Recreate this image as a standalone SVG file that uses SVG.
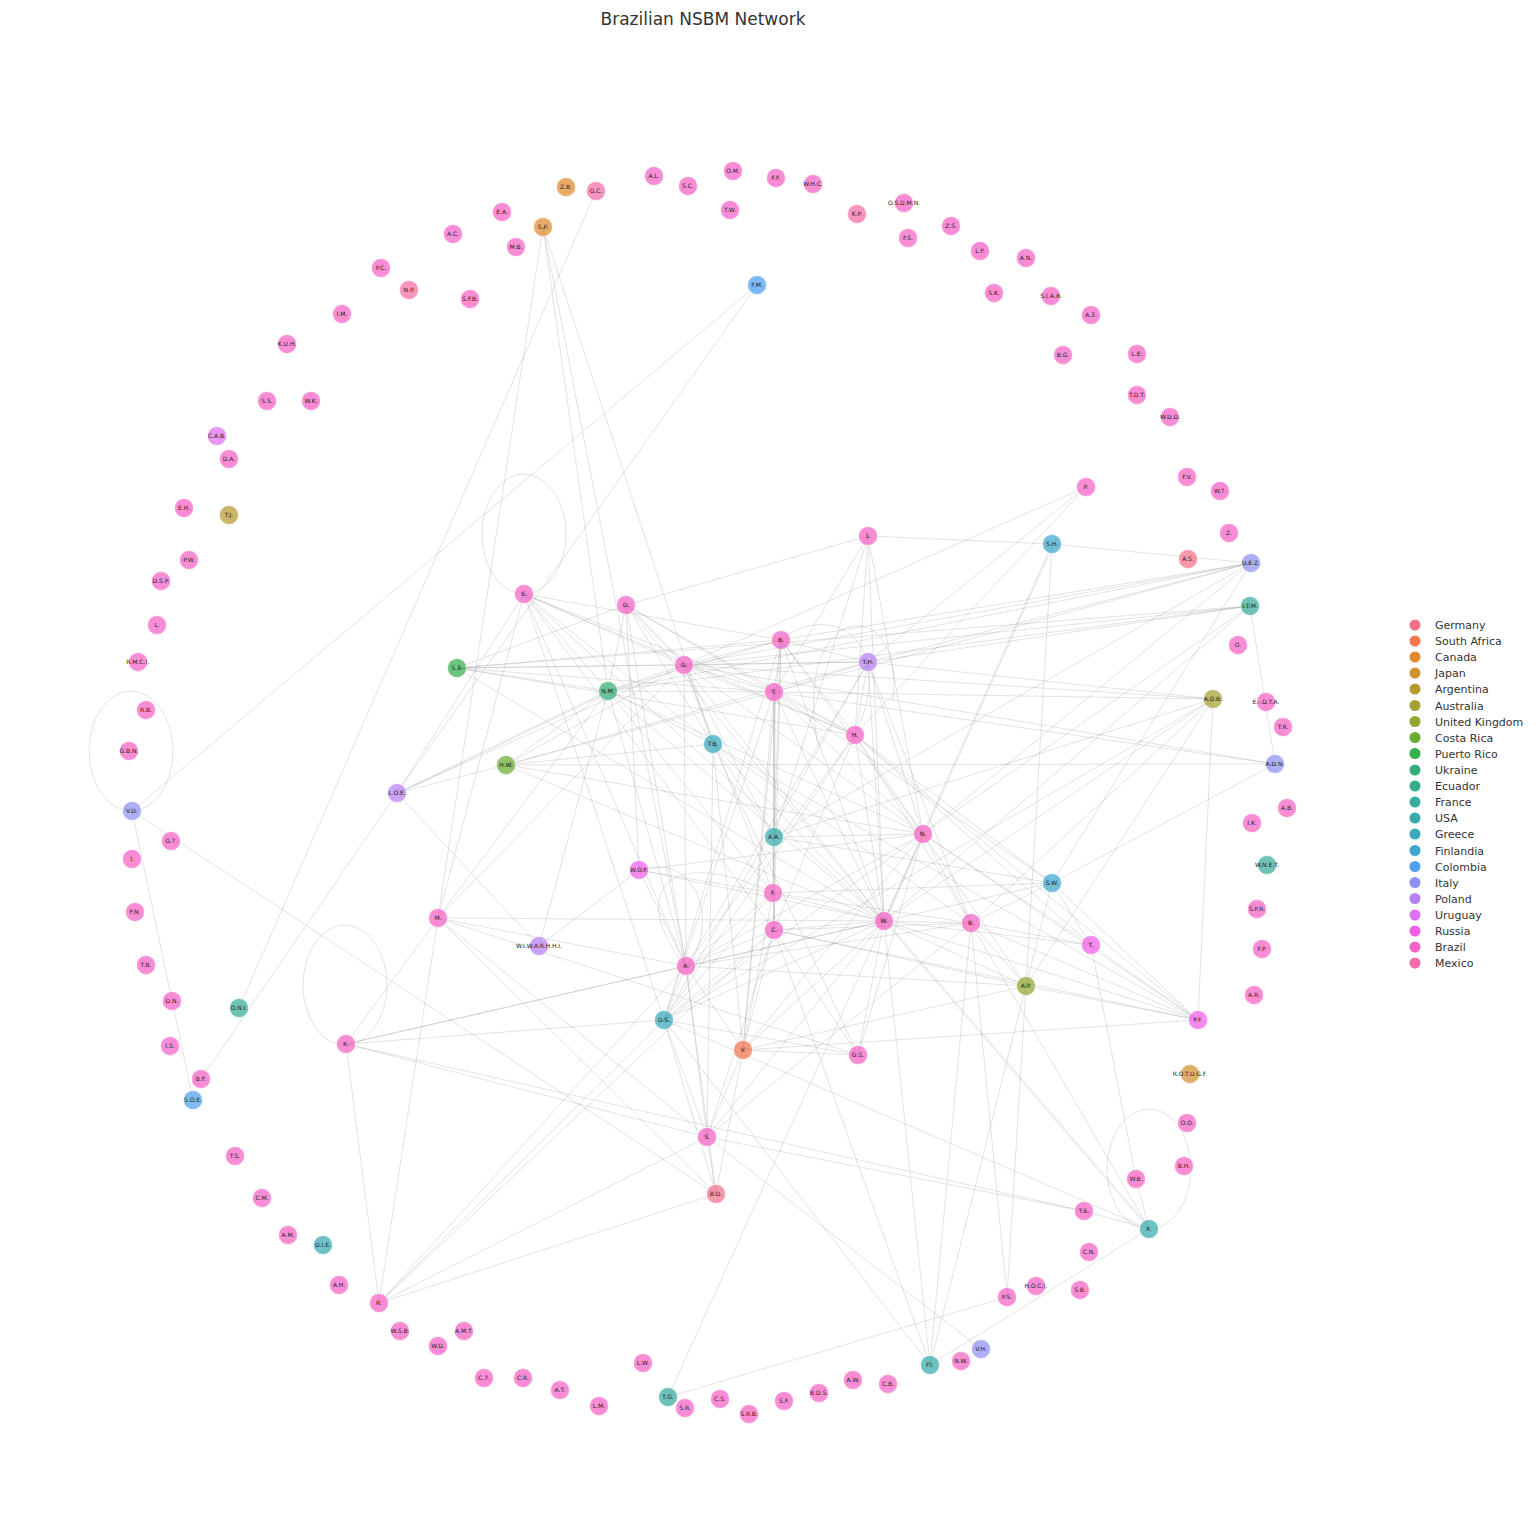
<svg xmlns="http://www.w3.org/2000/svg" width="1536" height="1536" viewBox="0 0 1536 1536">
<style>
.e line,.e path,.e ellipse{stroke:#888;stroke-opacity:.3;stroke-width:.8;fill:none}
.n circle{fill-opacity:.72;stroke:#fff;stroke-width:.6}
.n text{font-family:"DejaVu Sans",sans-serif;font-size:6px;fill:#222;text-anchor:middle}
.title{font-family:"DejaVu Sans",sans-serif;font-size:17px;fill:#333;text-anchor:middle}
.lg text{font-family:"DejaVu Sans",sans-serif;font-size:11px;fill:#333}
.de{fill:#f4708a}.za{fill:#f5764f}.ca{fill:#e0892e}.jp{fill:#d19232}.ar{fill:#b8992f}.au{fill:#a5a033}.uk{fill:#92a631}.cr{fill:#6aac31}.pr{fill:#34b04f}.ua{fill:#36ae79}.ec{fill:#36ad8f}.fr{fill:#37ab9e}.us{fill:#38aaad}.gr{fill:#39a9bc}.fi{fill:#3ba6cf}.co{fill:#4ea0f2}.it{fill:#8f90f4}.pl{fill:#b780f4}.uy{fill:#dc6ff4}.ru{fill:#f35de6}.br{fill:#f561c6}.mx{fill:#f66aa8}
</style>
<rect width="1536" height="1536" fill="#fff"/>
<text class="title" x="703" y="25">Brazilian NSBM Network</text>
<g id="edges" class="e">
<ellipse cx="524" cy="534" rx="42" ry="60"/>
<ellipse cx="131" cy="751" rx="42" ry="60"/>
<ellipse cx="345" cy="985" rx="42" ry="60"/>
<ellipse cx="1149" cy="1169" rx="42" ry="60"/>
<path d="M818,745 C790,600 905,590 893,700"/>
<path d="M781,640 C830,600 900,640 855,735"/>
<path d="M686,966 C630,900 660,840 773,893"/>
<path d="M639,870 C700,850 720,930 686,966"/>
<line x1="543" y1="227" x2="438" y2="918"/><line x1="543" y1="227" x2="608" y2="691"/><line x1="543" y1="227" x2="686" y2="966"/><line x1="543" y1="227" x2="713" y2="744"/>
<line x1="596" y1="191" x2="239" y2="1008"/>
<line x1="757" y1="285" x2="132" y2="811"/><line x1="757" y1="285" x2="397" y2="793"/>
<line x1="868" y1="536" x2="1052" y2="544"/><line x1="868" y1="536" x2="626" y2="605"/><line x1="868" y1="536" x2="774" y2="692"/><line x1="868" y1="536" x2="855" y2="735"/><line x1="868" y1="536" x2="923" y2="834"/><line x1="868" y1="536" x2="774" y2="837"/><line x1="868" y1="536" x2="884" y2="921"/>
<line x1="1086" y1="487" x2="684" y2="665"/><line x1="1086" y1="487" x2="868" y2="662"/><line x1="1086" y1="487" x2="855" y2="735"/>
<line x1="1052" y1="544" x2="884" y2="921"/><line x1="1053" y1="545" x2="885" y2="922"/><line x1="1052" y1="544" x2="1026" y2="986"/><line x1="1052" y1="544" x2="1251" y2="563"/>
<line x1="1251" y1="563" x2="684" y2="665"/><line x1="1251" y1="563" x2="774" y2="692"/><line x1="1251" y1="563" x2="608" y2="691"/><line x1="1251" y1="563" x2="868" y2="662"/><line x1="1251" y1="563" x2="923" y2="834"/><line x1="1251" y1="563" x2="1052" y2="883"/><line x1="1251" y1="563" x2="781" y2="640"/><line x1="1251" y1="563" x2="774" y2="837"/>
<line x1="1250" y1="606" x2="1275" y2="764"/><line x1="1250" y1="606" x2="884" y2="921"/><line x1="1250" y1="606" x2="684" y2="665"/><line x1="1250" y1="606" x2="868" y2="662"/><line x1="1250" y1="606" x2="608" y2="691"/><line x1="1250" y1="606" x2="923" y2="834"/><line x1="1250" y1="606" x2="457" y2="668"/>
<line x1="1213" y1="699" x2="1198" y2="1020"/><line x1="1213" y1="699" x2="1026" y2="986"/><line x1="1213" y1="699" x2="774" y2="692"/><line x1="1213" y1="699" x2="774" y2="837"/><line x1="1213" y1="699" x2="884" y2="921"/><line x1="1213" y1="699" x2="868" y2="662"/><line x1="1213" y1="699" x2="971" y2="923"/><line x1="1213" y1="699" x2="684" y2="665"/><line x1="1213" y1="699" x2="664" y2="1020"/>
<line x1="1275" y1="764" x2="1052" y2="883"/><line x1="1275" y1="764" x2="506" y2="765"/><line x1="1275" y1="764" x2="774" y2="692"/><line x1="1275" y1="764" x2="684" y2="665"/>
<line x1="132" y1="811" x2="193" y2="1100"/><line x1="132" y1="811" x2="716" y2="1194"/>
<line x1="201" y1="1079" x2="397" y2="793"/>
<line x1="397" y1="793" x2="608" y2="691"/><line x1="398" y1="794" x2="609" y2="692"/><line x1="397" y1="793" x2="506" y2="765"/><line x1="397" y1="793" x2="524" y2="594"/><line x1="397" y1="793" x2="539" y2="946"/>
<line x1="438" y1="918" x2="346" y2="1044"/><line x1="438" y1="918" x2="379" y2="1303"/><line x1="438" y1="918" x2="686" y2="966"/><line x1="438" y1="918" x2="884" y2="921"/><line x1="438" y1="918" x2="707" y2="1137"/><line x1="438" y1="918" x2="716" y2="1194"/><line x1="438" y1="918" x2="858" y2="1055"/><line x1="438" y1="918" x2="608" y2="691"/><line x1="438" y1="918" x2="684" y2="665"/><line x1="438" y1="918" x2="524" y2="594"/>
<line x1="346" y1="1044" x2="379" y2="1303"/><line x1="346" y1="1044" x2="664" y2="1020"/><line x1="346" y1="1044" x2="686" y2="966"/><line x1="346" y1="1044" x2="707" y2="1137"/><line x1="346" y1="1044" x2="1084" y2="1211"/><line x1="346" y1="1044" x2="884" y2="921"/>
<line x1="379" y1="1303" x2="716" y2="1194"/><line x1="379" y1="1303" x2="707" y2="1137"/><line x1="379" y1="1303" x2="664" y2="1020"/><line x1="379" y1="1303" x2="686" y2="966"/><line x1="379" y1="1303" x2="774" y2="930"/>
<line x1="668" y1="1397" x2="884" y2="921"/><line x1="668" y1="1397" x2="1007" y2="1297"/>
<line x1="1007" y1="1297" x2="1026" y2="986"/><line x1="1007" y1="1297" x2="971" y2="923"/>
<line x1="930" y1="1365" x2="1026" y2="986"/><line x1="930" y1="1365" x2="971" y2="923"/><line x1="930" y1="1365" x2="884" y2="921"/><line x1="930" y1="1365" x2="664" y2="1020"/><line x1="930" y1="1365" x2="1149" y2="1229"/><line x1="930" y1="1365" x2="774" y2="930"/>
<line x1="981" y1="1349" x2="707" y2="1137"/>
<line x1="1149" y1="1229" x2="1136" y2="1179"/><line x1="1149" y1="1229" x2="884" y2="921"/><line x1="1150" y1="1228" x2="885" y2="920"/><line x1="1149" y1="1229" x2="971" y2="923"/><line x1="1149" y1="1229" x2="1084" y2="1211"/><line x1="1149" y1="1229" x2="664" y2="1020"/>
<line x1="1136" y1="1179" x2="1091" y2="945"/>
<line x1="1084" y1="1211" x2="707" y2="1137"/>
<line x1="524" y1="594" x2="608" y2="691"/><line x1="524" y1="594" x2="684" y2="665"/><line x1="524" y1="594" x2="774" y2="692"/><line x1="524" y1="594" x2="855" y2="735"/><line x1="524" y1="594" x2="686" y2="966"/><line x1="524" y1="594" x2="664" y2="1020"/><line x1="524" y1="594" x2="713" y2="744"/><line x1="524" y1="594" x2="884" y2="921"/><line x1="524" y1="594" x2="774" y2="930"/><line x1="524" y1="594" x2="781" y2="640"/>
<line x1="626" y1="605" x2="608" y2="691"/><line x1="626" y1="605" x2="684" y2="665"/><line x1="627" y1="604" x2="685" y2="664"/><line x1="626" y1="605" x2="774" y2="692"/><line x1="626" y1="605" x2="639" y2="870"/><line x1="626" y1="605" x2="686" y2="966"/><line x1="626" y1="605" x2="713" y2="744"/><line x1="626" y1="605" x2="457" y2="668"/><line x1="626" y1="605" x2="855" y2="735"/><line x1="626" y1="605" x2="884" y2="921"/>
<line x1="684" y1="665" x2="774" y2="692"/><line x1="684" y1="665" x2="781" y2="640"/><line x1="684" y1="665" x2="868" y2="662"/><line x1="684" y1="665" x2="855" y2="735"/><line x1="684" y1="665" x2="608" y2="691"/><line x1="684" y1="665" x2="457" y2="668"/><line x1="684" y1="665" x2="506" y2="765"/><line x1="684" y1="665" x2="713" y2="744"/><line x1="684" y1="665" x2="774" y2="837"/><line x1="684" y1="665" x2="884" y2="921"/><line x1="684" y1="665" x2="923" y2="834"/><line x1="684" y1="665" x2="773" y2="893"/><line x1="684" y1="665" x2="686" y2="966"/><line x1="684" y1="665" x2="397" y2="793"/>
<line x1="781" y1="640" x2="774" y2="692"/><line x1="781" y1="640" x2="868" y2="662"/><line x1="781" y1="640" x2="855" y2="735"/><line x1="781" y1="640" x2="774" y2="837"/><line x1="781" y1="640" x2="774" y2="930"/><line x1="781" y1="640" x2="884" y2="921"/><line x1="781" y1="640" x2="923" y2="834"/><line x1="781" y1="640" x2="457" y2="668"/><line x1="781" y1="640" x2="664" y2="1020"/><line x1="781" y1="640" x2="743" y2="1050"/>
<line x1="868" y1="662" x2="774" y2="692"/><line x1="868" y1="662" x2="855" y2="735"/><line x1="868" y1="662" x2="923" y2="834"/><line x1="868" y1="662" x2="884" y2="921"/><line x1="868" y1="662" x2="686" y2="966"/><line x1="868" y1="662" x2="664" y2="1020"/><line x1="868" y1="662" x2="457" y2="668"/><line x1="868" y1="662" x2="506" y2="765"/><line x1="868" y1="662" x2="971" y2="923"/>
<line x1="774" y1="692" x2="774" y2="837"/><line x1="775" y1="692" x2="775" y2="837"/><line x1="774" y1="692" x2="773" y2="893"/><line x1="774" y1="692" x2="774" y2="930"/><line x1="774" y1="692" x2="855" y2="735"/><line x1="774" y1="692" x2="923" y2="834"/><line x1="774" y1="692" x2="884" y2="921"/><line x1="774" y1="692" x2="1052" y2="883"/><line x1="774" y1="692" x2="743" y2="1050"/><line x1="774" y1="692" x2="664" y2="1020"/><line x1="774" y1="692" x2="608" y2="691"/><line x1="774" y1="692" x2="506" y2="765"/><line x1="774" y1="692" x2="457" y2="668"/>
<line x1="855" y1="735" x2="923" y2="834"/><line x1="855" y1="735" x2="884" y2="921"/><line x1="855" y1="735" x2="971" y2="923"/><line x1="855" y1="735" x2="1091" y2="945"/><line x1="855" y1="735" x2="686" y2="966"/><line x1="855" y1="735" x2="774" y2="930"/><line x1="855" y1="735" x2="664" y2="1020"/><line x1="855" y1="735" x2="1198" y2="1020"/><line x1="855" y1="735" x2="1052" y2="883"/>
<line x1="608" y1="691" x2="686" y2="966"/><line x1="608" y1="691" x2="713" y2="744"/><line x1="608" y1="691" x2="884" y2="921"/><line x1="608" y1="691" x2="457" y2="668"/><line x1="608" y1="691" x2="773" y2="893"/><line x1="608" y1="691" x2="923" y2="834"/><line x1="608" y1="691" x2="781" y2="640"/><line x1="608" y1="691" x2="506" y2="765"/><line x1="608" y1="691" x2="539" y2="946"/>
<line x1="713" y1="744" x2="774" y2="837"/><line x1="713" y1="744" x2="884" y2="921"/><line x1="713" y1="744" x2="971" y2="923"/><line x1="713" y1="744" x2="1198" y2="1020"/><line x1="713" y1="744" x2="858" y2="1055"/><line x1="713" y1="744" x2="743" y2="1050"/><line x1="713" y1="744" x2="707" y2="1137"/>
<line x1="774" y1="837" x2="773" y2="893"/><line x1="774" y1="837" x2="774" y2="930"/><line x1="774" y1="837" x2="923" y2="834"/><line x1="774" y1="837" x2="1052" y2="883"/>
<line x1="923" y1="834" x2="884" y2="921"/><line x1="923" y1="834" x2="971" y2="923"/><line x1="923" y1="834" x2="1091" y2="945"/><line x1="923" y1="834" x2="1198" y2="1020"/><line x1="923" y1="834" x2="1026" y2="986"/><line x1="923" y1="834" x2="639" y2="870"/><line x1="923" y1="834" x2="664" y2="1020"/><line x1="923" y1="834" x2="743" y2="1050"/><line x1="923" y1="834" x2="686" y2="966"/>
<line x1="639" y1="870" x2="773" y2="893"/><line x1="639" y1="870" x2="884" y2="921"/><line x1="639" y1="870" x2="686" y2="966"/><line x1="639" y1="870" x2="539" y2="946"/>
<line x1="773" y1="893" x2="774" y2="930"/><line x1="773" y1="893" x2="884" y2="921"/><line x1="773" y1="893" x2="971" y2="923"/><line x1="773" y1="893" x2="686" y2="966"/><line x1="773" y1="893" x2="664" y2="1020"/><line x1="773" y1="893" x2="743" y2="1050"/><line x1="773" y1="893" x2="1052" y2="883"/>
<line x1="884" y1="921" x2="971" y2="923"/><line x1="884" y1="921" x2="1091" y2="945"/><line x1="884" y1="921" x2="1026" y2="986"/><line x1="884" y1="921" x2="1198" y2="1020"/><line x1="884" y1="921" x2="664" y2="1020"/><line x1="884" y1="921" x2="686" y2="966"/><line x1="884" y1="921" x2="774" y2="930"/><line x1="884" y1="921" x2="858" y2="1055"/><line x1="884" y1="921" x2="1052" y2="883"/><line x1="884" y1="921" x2="743" y2="1050"/><line x1="884" y1="921" x2="707" y2="1137"/>
<line x1="971" y1="923" x2="1091" y2="945"/><line x1="971" y1="923" x2="1052" y2="883"/><line x1="971" y1="923" x2="1198" y2="1020"/><line x1="971" y1="923" x2="1026" y2="986"/><line x1="971" y1="923" x2="774" y2="930"/><line x1="971" y1="923" x2="686" y2="966"/>
<line x1="774" y1="930" x2="686" y2="966"/><line x1="774" y1="930" x2="664" y2="1020"/><line x1="774" y1="930" x2="743" y2="1050"/><line x1="774" y1="930" x2="858" y2="1055"/><line x1="774" y1="930" x2="707" y2="1137"/><line x1="774" y1="930" x2="1198" y2="1020"/><line x1="774" y1="930" x2="1026" y2="986"/>
<line x1="686" y1="966" x2="664" y2="1020"/><line x1="686" y1="966" x2="707" y2="1137"/><line x1="686" y1="966" x2="743" y2="1050"/><line x1="686" y1="966" x2="1026" y2="986"/><line x1="686" y1="966" x2="716" y2="1194"/>
<line x1="664" y1="1020" x2="707" y2="1137"/><line x1="664" y1="1020" x2="716" y2="1194"/><line x1="664" y1="1020" x2="858" y2="1055"/>
<line x1="743" y1="1050" x2="707" y2="1137"/><line x1="743" y1="1050" x2="716" y2="1194"/><line x1="743" y1="1050" x2="1198" y2="1020"/><line x1="743" y1="1050" x2="1026" y2="986"/><line x1="743" y1="1050" x2="858" y2="1055"/>
<line x1="707" y1="1137" x2="716" y2="1194"/><line x1="707" y1="1137" x2="971" y2="923"/>
<line x1="1052" y1="883" x2="1026" y2="986"/><line x1="1052" y1="883" x2="1091" y2="945"/><line x1="1052" y1="883" x2="1198" y2="1020"/>
<line x1="1091" y1="945" x2="1198" y2="1020"/><line x1="1026" y1="986" x2="1198" y2="1020"/>
<line x1="457" y1="668" x2="855" y2="735"/><line x1="457" y1="668" x2="884" y2="921"/>
<line x1="506" y1="765" x2="884" y2="921"/><line x1="506" y1="765" x2="923" y2="834"/><line x1="506" y1="765" x2="713" y2="744"/>
<line x1="858" y1="1055" x2="923" y2="834"/>
</g>
<g id="nodes" class="n">
<g id="n-ZB"><circle class="ca" cx="566" cy="187" r="9.5"/><text x="566" y="189">Z.B.</text></g>
<g id="n-GC"><circle class="mx" cx="596" cy="191" r="9.5"/><text x="596" y="193">G.C.</text></g>
<g id="n-AL"><circle class="br" cx="654" cy="176" r="9.5"/><text x="654" y="178">A.L.</text></g>
<g id="n-SC"><circle class="br" cx="688" cy="186" r="9.5"/><text x="688" y="188">S.C.</text></g>
<g id="n-OM"><circle class="br" cx="733" cy="171" r="9.5"/><text x="733" y="173">O.M.</text></g>
<g id="n-FF1"><circle class="br" cx="776" cy="178" r="9.5"/><text x="776" y="180">F.F.</text></g>
<g id="n-WHC"><circle class="br" cx="813" cy="184" r="9.5"/><text x="813" y="186">W.H.C.</text></g>
<g id="n-TW"><circle class="br" cx="730" cy="210" r="9.5"/><text x="730" y="212">T.W.</text></g>
<g id="n-KP"><circle class="mx" cx="857" cy="214" r="9.5"/><text x="857" y="216">K.P.</text></g>
<g id="n-OSDMN"><circle class="br" cx="904" cy="203" r="9.5"/><text x="904" y="205">O.S.D.M.N.</text></g>
<g id="n-FS"><circle class="br" cx="908" cy="238" r="9.5"/><text x="908" y="240">F.S.</text></g>
<g id="n-ZS"><circle class="br" cx="951" cy="226" r="9.5"/><text x="951" y="228">Z.S.</text></g>
<g id="n-LF"><circle class="br" cx="980" cy="251" r="9.5"/><text x="980" y="253">L.F.</text></g>
<g id="n-AN"><circle class="br" cx="1026" cy="258" r="9.5"/><text x="1026" y="260">A.N.</text></g>
<g id="n-SK"><circle class="br" cx="994" cy="293" r="9.5"/><text x="994" y="295">S.K.</text></g>
<g id="n-SCAR"><circle class="br" cx="1051" cy="296" r="9.5"/><text x="1051" y="298">S.(.A.R.</text></g>
<g id="n-A3"><circle class="br" cx="1091" cy="315" r="9.5"/><text x="1091" y="317">A.3.</text></g>
<g id="n-BG"><circle class="br" cx="1063" cy="355" r="9.5"/><text x="1063" y="357">B.G.</text></g>
<g id="n-LE"><circle class="br" cx="1137" cy="354" r="9.5"/><text x="1137" y="356">L.E.</text></g>
<g id="n-TDT"><circle class="br" cx="1137" cy="395" r="9.5"/><text x="1137" y="397">T.D.T.</text></g>
<g id="n-WDD"><circle class="br" cx="1170" cy="417" r="9.5"/><text x="1170" y="419">W.D.D.</text></g>
<g id="n-FV"><circle class="br" cx="1187" cy="477" r="9.5"/><text x="1187" y="479">F.V.</text></g>
<g id="n-W7"><circle class="br" cx="1220" cy="491" r="9.5"/><text x="1220" y="493">W.?.</text></g>
<g id="n-Z"><circle class="br" cx="1229" cy="533" r="9.5"/><text x="1229" y="535">Z.</text></g>
<g id="n-P"><circle class="br" cx="1086" cy="487" r="9.5"/><text x="1086" y="489">P.</text></g>
<g id="n-EA"><circle class="br" cx="502" cy="212" r="9.5"/><text x="502" y="214">E.A.</text></g>
<g id="n-AC"><circle class="br" cx="453" cy="234" r="9.5"/><text x="453" y="236">A.C.</text></g>
<g id="n-SP"><circle class="ca" cx="543" cy="227" r="9.5"/><text x="543" y="229">S.P.</text></g>
<g id="n-MB"><circle class="br" cx="516" cy="247" r="9.5"/><text x="516" y="249">M.B.</text></g>
<g id="n-PC"><circle class="br" cx="381" cy="268" r="9.5"/><text x="381" y="270">P.C.</text></g>
<g id="n-NP"><circle class="mx" cx="409" cy="290" r="9.5"/><text x="409" y="292">N.P.</text></g>
<g id="n-SFB"><circle class="br" cx="470" cy="299" r="9.5"/><text x="470" y="301">S.F.B.</text></g>
<g id="n-IM"><circle class="br" cx="342" cy="314" r="9.5"/><text x="342" y="316">I.M.</text></g>
<g id="n-KUH"><circle class="br" cx="287" cy="344" r="9.5"/><text x="287" y="346">K.U.H.</text></g>
<g id="n-SS"><circle class="br" cx="267" cy="401" r="9.5"/><text x="267" y="403">S.S.</text></g>
<g id="n-WK"><circle class="br" cx="311" cy="401" r="9.5"/><text x="311" y="403">W.K.</text></g>
<g id="n-CAB"><circle class="uy" cx="217" cy="436" r="9.5"/><text x="217" y="438">C.A.B.</text></g>
<g id="n-DA"><circle class="br" cx="229" cy="459" r="9.5"/><text x="229" y="461">D.A.</text></g>
<g id="n-EH"><circle class="br" cx="184" cy="508" r="9.5"/><text x="184" y="510">E.H.</text></g>
<g id="n-TJ"><circle class="ar" cx="229" cy="515" r="9.5"/><text x="229" y="517">T.J.</text></g>
<g id="n-PW"><circle class="br" cx="189" cy="560" r="9.5"/><text x="189" y="562">P.W.</text></g>
<g id="n-DSP"><circle class="br" cx="161" cy="581" r="9.5"/><text x="161" y="583">D.S.P.</text></g>
<g id="n-L"><circle class="br" cx="157" cy="625" r="9.5"/><text x="157" y="627">L.</text></g>
<g id="n-RMC"><circle class="br" cx="138" cy="662" r="9.5"/><text x="138" y="664">R.M.C.(.</text></g>
<g id="n-RB"><circle class="br" cx="146" cy="710" r="9.5"/><text x="146" y="712">R.B.</text></g>
<g id="n-GBN"><circle class="br" cx="129" cy="751" r="9.5"/><text x="129" y="753">G.B.N.</text></g>
<g id="n-VD"><circle class="it" cx="132" cy="811" r="9.5"/><text x="132" y="813">V.D.</text></g>
<g id="n-GQ"><circle class="br" cx="171" cy="841" r="9.5"/><text x="171" y="843">G.?.</text></g>
<g id="n-I"><circle class="br" cx="132" cy="859" r="9.5"/><text x="132" y="861">I.</text></g>
<g id="n-FN"><circle class="br" cx="135" cy="912" r="9.5"/><text x="135" y="914">F.N.</text></g>
<g id="n-TB1"><circle class="br" cx="146" cy="965" r="9.5"/><text x="146" y="967">T.B.</text></g>
<g id="n-DN"><circle class="br" cx="172" cy="1001" r="9.5"/><text x="172" y="1003">D.N.</text></g>
<g id="n-ONI"><circle class="ec" cx="239" cy="1008" r="9.5"/><text x="239" y="1010">O.N.I.</text></g>
<g id="n-IS"><circle class="br" cx="170" cy="1046" r="9.5"/><text x="170" y="1048">I.S.</text></g>
<g id="n-BF"><circle class="br" cx="201" cy="1079" r="9.5"/><text x="201" y="1081">B.F.</text></g>
<g id="n-SOE"><circle class="co" cx="193" cy="1100" r="9.5"/><text x="193" y="1102">S.O.E.</text></g>
<g id="n-TS"><circle class="br" cx="235" cy="1156" r="9.5"/><text x="235" y="1158">T.S.</text></g>
<g id="n-CM"><circle class="br" cx="262" cy="1198" r="9.5"/><text x="262" y="1200">C.M.</text></g>
<g id="n-AM"><circle class="br" cx="288" cy="1235" r="9.5"/><text x="288" y="1237">A.M.</text></g>
<g id="n-DIE"><circle class="us" cx="323" cy="1245" r="9.5"/><text x="323" y="1247">D.I.E.</text></g>
<g id="n-AH"><circle class="br" cx="339" cy="1285" r="9.5"/><text x="339" y="1287">A.H.</text></g>
<g id="n-R"><circle class="br" cx="379" cy="1303" r="9.5"/><text x="379" y="1305">R.</text></g>
<g id="n-WSB"><circle class="br" cx="400" cy="1331" r="9.5"/><text x="400" y="1333">W.S.B.</text></g>
<g id="n-AMT"><circle class="br" cx="464" cy="1331" r="9.5"/><text x="464" y="1333">A.M.T.</text></g>
<g id="n-WD"><circle class="br" cx="438" cy="1346" r="9.5"/><text x="438" y="1348">W.D.</text></g>
<g id="n-C7"><circle class="br" cx="484" cy="1378" r="9.5"/><text x="484" y="1380">C.7.</text></g>
<g id="n-CR"><circle class="br" cx="523" cy="1378" r="9.5"/><text x="523" y="1380">C.R.</text></g>
<g id="n-AT"><circle class="br" cx="560" cy="1390" r="9.5"/><text x="560" y="1392">A.T.</text></g>
<g id="n-LM"><circle class="br" cx="599" cy="1406" r="9.5"/><text x="599" y="1408">L.M.</text></g>
<g id="n-LW"><circle class="br" cx="643" cy="1363" r="9.5"/><text x="643" y="1365">L.W.</text></g>
<g id="n-TG"><circle class="fr" cx="668" cy="1397" r="9.5"/><text x="668" y="1399">T.G.</text></g>
<g id="n-SR"><circle class="br" cx="685" cy="1408" r="9.5"/><text x="685" y="1410">S.R.</text></g>
<g id="n-CS"><circle class="br" cx="720" cy="1399" r="9.5"/><text x="720" y="1401">C.S.</text></g>
<g id="n-SRB"><circle class="br" cx="749" cy="1414" r="9.5"/><text x="749" y="1416">S.R.B.</text></g>
<g id="n-SF"><circle class="br" cx="784" cy="1401" r="9.5"/><text x="784" y="1403">S.F.</text></g>
<g id="n-BDS"><circle class="br" cx="819" cy="1393" r="9.5"/><text x="819" y="1395">B.D.S.</text></g>
<g id="n-AW"><circle class="br" cx="853" cy="1380" r="9.5"/><text x="853" y="1382">A.W.</text></g>
<g id="n-CB"><circle class="br" cx="888" cy="1384" r="9.5"/><text x="888" y="1386">C.B.</text></g>
<g id="n-NW"><circle class="br" cx="961" cy="1361" r="9.5"/><text x="961" y="1363">N.W.</text></g>
<g id="n-VH"><circle class="it" cx="981" cy="1349" r="9.5"/><text x="981" y="1351">V.H.</text></g>
<g id="n-FI"><circle class="us" cx="930" cy="1365" r="9.5"/><text x="930" y="1367">F.I.</text></g>
<g id="n-PS"><circle class="br" cx="1007" cy="1297" r="9.5"/><text x="1007" y="1299">P.S.</text></g>
<g id="n-HOC"><circle class="br" cx="1036" cy="1286" r="9.5"/><text x="1036" y="1288">H.O.C.(.</text></g>
<g id="n-SB"><circle class="br" cx="1080" cy="1290" r="9.5"/><text x="1080" y="1292">S.B.</text></g>
<g id="n-CN"><circle class="br" cx="1089" cy="1252" r="9.5"/><text x="1089" y="1254">C.N.</text></g>
<g id="n-T6"><circle class="br" cx="1084" cy="1211" r="9.5"/><text x="1084" y="1213">T.6.</text></g>
<g id="n-X"><circle class="us" cx="1149" cy="1229" r="9.5"/><text x="1149" y="1231">X.</text></g>
<g id="n-WB"><circle class="br" cx="1136" cy="1179" r="9.5"/><text x="1136" y="1181">W.B.</text></g>
<g id="n-BH"><circle class="br" cx="1184" cy="1166" r="9.5"/><text x="1184" y="1168">B.H.</text></g>
<g id="n-OO"><circle class="br" cx="1187" cy="1123" r="9.5"/><text x="1187" y="1125">O.O.</text></g>
<g id="n-ROTUGF"><circle class="jp" cx="1190" cy="1074" r="9.5"/><text x="1190" y="1076">R.O.T.U.G.F.</text></g>
<g id="n-FF2"><circle class="ru" cx="1198" cy="1020" r="9.5"/><text x="1198" y="1022">F.F.</text></g>
<g id="n-AR"><circle class="br" cx="1254" cy="995" r="9.5"/><text x="1254" y="997">A.R.</text></g>
<g id="n-FP"><circle class="br" cx="1262" cy="949" r="9.5"/><text x="1262" y="951">F.P.</text></g>
<g id="n-SPR"><circle class="br" cx="1257" cy="909" r="9.5"/><text x="1257" y="911">S.P.R.</text></g>
<g id="n-WNET"><circle class="fr" cx="1267" cy="865" r="9.5"/><text x="1267" y="867">W.N.E.T.</text></g>
<g id="n-IK"><circle class="br" cx="1252" cy="823" r="9.5"/><text x="1252" y="825">I.K.</text></g>
<g id="n-AB"><circle class="br" cx="1287" cy="808" r="9.5"/><text x="1287" y="810">A.B.</text></g>
<g id="n-ADN"><circle class="it" cx="1275" cy="764" r="9.5"/><text x="1275" y="766">A.D.N.</text></g>
<g id="n-TR"><circle class="br" cx="1283" cy="727" r="9.5"/><text x="1283" y="729">T.R.</text></g>
<g id="n-EDTA"><circle class="br" cx="1266" cy="702" r="9.5"/><text x="1266" y="704">E.-.D.T.A.</text></g>
<g id="n-AOB"><circle class="au" cx="1213" cy="699" r="9.5"/><text x="1213" y="701">A.O.B.</text></g>
<g id="n-O"><circle class="br" cx="1238" cy="645" r="9.5"/><text x="1238" y="647">O.</text></g>
<g id="n-ITM"><circle class="fr" cx="1250" cy="606" r="9.5"/><text x="1250" y="608">I.T.M.</text></g>
<g id="n-UEZ"><circle class="it" cx="1251" cy="563" r="9.5"/><text x="1251" y="565">U.E.Z.</text></g>
<g id="n-AS"><circle class="de" cx="1188" cy="559" r="9.5"/><text x="1188" y="561">A.S.</text></g>
<g id="n-SH"><circle class="fi" cx="1052" cy="544" r="9.5"/><text x="1052" y="546">S.H.</text></g>
<g id="n-1"><circle class="br" cx="868" cy="536" r="9.5"/><text x="868" y="538">1.</text></g>
<g id="n-FM"><circle class="co" cx="757" cy="285" r="9.5"/><text x="757" y="287">F.M.</text></g>
<g id="n-E"><circle class="br" cx="524" cy="594" r="9.5"/><text x="524" y="596">E.</text></g>
<g id="n-D"><circle class="br" cx="626" cy="605" r="9.5"/><text x="626" y="607">D.</text></g>
<g id="n-B1"><circle class="br" cx="781" cy="640" r="9.5"/><text x="781" y="642">B.</text></g>
<g id="n-G"><circle class="br" cx="684" cy="665" r="9.5"/><text x="684" y="667">G.</text></g>
<g id="n-TH"><circle class="pl" cx="868" cy="662" r="9.5"/><text x="868" y="664">T.H.</text></g>
<g id="n-NM"><circle class="ua" cx="608" cy="691" r="9.5"/><text x="608" y="693">N.M.</text></g>
<g id="n-T1"><circle class="br" cx="774" cy="692" r="9.5"/><text x="774" y="694">T.</text></g>
<g id="n-H"><circle class="br" cx="855" cy="735" r="9.5"/><text x="855" y="737">H.</text></g>
<g id="n-TB2"><circle class="gr" cx="713" cy="744" r="9.5"/><text x="713" y="746">T.B.</text></g>
<g id="n-S3"><circle class="pr" cx="457" cy="668" r="9.5"/><text x="457" y="670">S.3.</text></g>
<g id="n-HW"><circle class="cr" cx="506" cy="765" r="9.5"/><text x="506" y="767">H.W.</text></g>
<g id="n-LOE"><circle class="pl" cx="397" cy="793" r="9.5"/><text x="397" y="795">L.O.E.</text></g>
<g id="n-AA"><circle class="us" cx="774" cy="837" r="9.5"/><text x="774" y="839">A.A.</text></g>
<g id="n-N"><circle class="br" cx="923" cy="834" r="9.5"/><text x="923" y="836">N.</text></g>
<g id="n-WOF"><circle class="ru" cx="639" cy="870" r="9.5"/><text x="639" y="872">W.O.F.</text></g>
<g id="n-F"><circle class="br" cx="773" cy="893" r="9.5"/><text x="773" y="895">F.</text></g>
<g id="n-M"><circle class="br" cx="438" cy="918" r="9.5"/><text x="438" y="920">M.</text></g>
<g id="n-WIW"><circle class="pl" cx="539" cy="946" r="9.5"/><text x="539" y="948">W.I.W.A.R.H.H.I.</text></g>
<g id="n-W"><circle class="br" cx="884" cy="921" r="9.5"/><text x="884" y="923">W.</text></g>
<g id="n-B2"><circle class="br" cx="971" cy="923" r="9.5"/><text x="971" y="925">B.</text></g>
<g id="n-SW"><circle class="fi" cx="1052" cy="883" r="9.5"/><text x="1052" y="885">S.W.</text></g>
<g id="n-T2"><circle class="ru" cx="1091" cy="945" r="9.5"/><text x="1091" y="947">T.</text></g>
<g id="n-C"><circle class="br" cx="774" cy="930" r="9.5"/><text x="774" y="932">C.</text></g>
<g id="n-A"><circle class="br" cx="686" cy="966" r="9.5"/><text x="686" y="968">A.</text></g>
<g id="n-AP"><circle class="uk" cx="1026" cy="986" r="9.5"/><text x="1026" y="988">A.P.</text></g>
<g id="n-DS"><circle class="gr" cx="664" cy="1020" r="9.5"/><text x="664" y="1022">D.S.</text></g>
<g id="n-V"><circle class="za" cx="743" cy="1050" r="9.5"/><text x="743" y="1052">V.</text></g>
<g id="n-GS"><circle class="br" cx="858" cy="1055" r="9.5"/><text x="858" y="1057">G.S.</text></g>
<g id="n-K"><circle class="br" cx="346" cy="1044" r="9.5"/><text x="346" y="1046">K.</text></g>
<g id="n-S"><circle class="br" cx="707" cy="1137" r="9.5"/><text x="707" y="1139">S.</text></g>
<g id="n-BD"><circle class="de" cx="716" cy="1194" r="9.5"/><text x="716" y="1196">B.D.</text></g>
</g>
<g id="legend" class="lg">
<circle class="de" cx="1415" cy="625" r="5.5"/><text x="1435" y="629">Germany</text>
<circle class="za" cx="1415" cy="641" r="5.5"/><text x="1435" y="645">South Africa</text>
<circle class="ca" cx="1415" cy="657" r="5.5"/><text x="1435" y="661">Canada</text>
<circle class="jp" cx="1415" cy="673" r="5.5"/><text x="1435" y="677">Japan</text>
<circle class="ar" cx="1415" cy="689" r="5.5"/><text x="1435" y="693">Argentina</text>
<circle class="au" cx="1415" cy="705.5" r="5.5"/><text x="1435" y="709.5">Australia</text>
<circle class="uk" cx="1415" cy="721.5" r="5.5"/><text x="1435" y="725.5">United Kingdom</text>
<circle class="cr" cx="1415" cy="737.5" r="5.5"/><text x="1435" y="741.5">Costa Rica</text>
<circle class="pr" cx="1415" cy="753.5" r="5.5"/><text x="1435" y="757.5">Puerto Rico</text>
<circle class="ua" cx="1415" cy="770" r="5.5"/><text x="1435" y="774">Ukraine</text>
<circle class="ec" cx="1415" cy="786" r="5.5"/><text x="1435" y="790">Ecuador</text>
<circle class="fr" cx="1415" cy="802" r="5.5"/><text x="1435" y="806">France</text>
<circle class="us" cx="1415" cy="818" r="5.5"/><text x="1435" y="822">USA</text>
<circle class="gr" cx="1415" cy="834" r="5.5"/><text x="1435" y="838">Greece</text>
<circle class="fi" cx="1415" cy="850.5" r="5.5"/><text x="1435" y="854.5">Finlandia</text>
<circle class="co" cx="1415" cy="866.5" r="5.5"/><text x="1435" y="870.5">Colombia</text>
<circle class="it" cx="1415" cy="882.5" r="5.5"/><text x="1435" y="886.5">Italy</text>
<circle class="pl" cx="1415" cy="898.5" r="5.5"/><text x="1435" y="902.5">Poland</text>
<circle class="uy" cx="1415" cy="915" r="5.5"/><text x="1435" y="919">Uruguay</text>
<circle class="ru" cx="1415" cy="931" r="5.5"/><text x="1435" y="935">Russia</text>
<circle class="br" cx="1415" cy="947" r="5.5"/><text x="1435" y="951">Brazil</text>
<circle class="mx" cx="1415" cy="963" r="5.5"/><text x="1435" y="967">Mexico</text>
</g>
</svg>
